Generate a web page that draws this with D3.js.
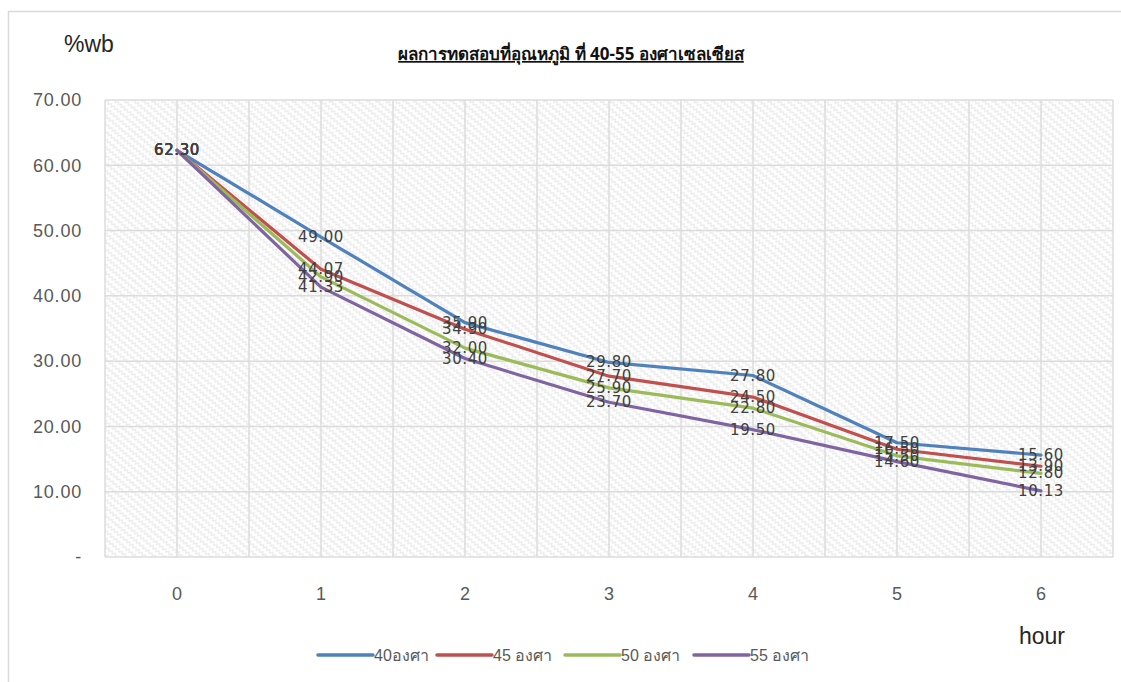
<!DOCTYPE html>
<html>
<head>
<meta charset="utf-8">
<script src="https://cdn.jsdelivr.net/npm/d3@7"></script>
<style>
  html, body { margin: 0; padding: 0; background: #fff; }
  svg { display: block; }
</style>
</head>
<body>
<svg id="chart" width="1121" height="682"></svg>
<script>
// Drying test: moisture content (%wb) over time at four temperatures
const hours = ["0", "1", "2", "3", "4", "5", "6"];
const seriesNames = ["40องศา", "45 องศา", "50 องศา", "55 องศา"];
const temp40 = [62.30, 49.00, 35.90, 29.80, 27.80, 17.50, 15.60];
const temp45 = [62.30, 44.07, 34.90, 27.70, 24.50, 16.50, 13.90];
const temp50 = [62.30, 42.90, 32.00, 25.90, 22.80, 15.50, 12.80];
const temp55 = [62.30, 41.33, 30.40, 23.70, 19.50, 14.60, 10.13];
const yTicks = [0, 10, 20, 30, 40, 50, 60, 70];
const colors = ["#4f81bd", "#c0504d", "#9bbb59", "#8064a2"];

const series = [temp40, temp45, temp50, temp55].map((vals, i) => ({
  name: seriesNames[i], color: colors[i], values: vals
}));

const svg = d3.select("#chart");
const plot = { left: 105, right: 1113, top: 100, bottom: 557 };

const x = d3.scaleBand().domain(hours).range([plot.left, plot.right]);
const y = d3.scaleLinear().domain([0, 70]).range([plot.bottom, plot.top]);
const cx = d => x(d) + x.bandwidth() / 2;

// Outer chart frame
svg.append("rect")
  .attr("x", 8.5).attr("y", 11.5).attr("width", 1125).attr("height", 700)
  .attr("fill", "#fff").attr("stroke", "#d9d9d9").attr("stroke-width", 1.5);

// Zigzag hatch for the plot area
const defs = svg.append("defs");
const pat = defs.append("pattern")
  .attr("id", "zigzag").attr("patternUnits", "userSpaceOnUse")
  .attr("width", 8).attr("height", 6)
  .attr("patternTransform", "rotate(40)");
pat.append("rect").attr("width", 8).attr("height", 6).attr("fill", "#ffffff");
pat.append("path")
  .attr("d", "M0,1.5 L2,4.5 L4,1.5 L6,4.5 L8,1.5")
  .attr("fill", "none").attr("stroke", "#e9e9e9").attr("stroke-width", 1.2);

svg.append("rect")
  .attr("x", plot.left).attr("y", plot.top)
  .attr("width", plot.right - plot.left).attr("height", plot.bottom - plot.top)
  .attr("fill", "url(#zigzag)");

// Gridlines
const grid = svg.append("g").attr("stroke", "#dcdcdc").attr("stroke-width", 1.5);
grid.selectAll("line.h").data(yTicks).join("line")
  .attr("x1", plot.left).attr("x2", plot.right)
  .attr("y1", d => y(d)).attr("y2", d => y(d));
const vlines = hours.map(h => x(h)).concat(hours.map(h => cx(h))).concat([plot.right]);
grid.selectAll("line.v").data(vlines).join("line")
  .attr("x1", d => d).attr("x2", d => d)
  .attr("y1", plot.top).attr("y2", plot.bottom);

// Y axis labels
const yAxis = d3.axisLeft(y).tickValues(yTicks)
  .tickFormat(d => d === 0 ? "-" : d3.format(".2f")(d))
  .tickSize(0).tickPadding(23);
svg.append("g").attr("transform", `translate(${plot.left},0)`).call(yAxis)
  .call(g => g.select(".domain").remove())
  .selectAll("text")
  .attr("font-family", "'Liberation Sans', Arial, sans-serif")
  .attr("font-size", 18).attr("letter-spacing", 0.8).attr("fill", "#595959");

// X axis labels
const xAxis = d3.axisBottom(x).tickSize(0).tickPadding(30);
svg.append("g").attr("transform", `translate(0,${plot.bottom})`).call(xAxis)
  .call(g => g.select(".domain").remove())
  .selectAll("text")
  .attr("font-family", "'Liberation Sans', Arial, sans-serif")
  .attr("font-size", 18).attr("fill", "#595959");

// Lines
const line = d3.line().x((d, i) => cx(hours[i])).y(d => y(d));
svg.append("g").selectAll("path").data(series).join("path")
  .attr("d", s => line(s.values))
  .attr("fill", "none").attr("stroke", s => s.color)
  .attr("stroke-width", 3.2).attr("stroke-linejoin", "round").attr("stroke-linecap", "round");

// Data labels centred on each point
const labels = svg.append("g")
  .attr("font-family", "'DejaVu Sans', sans-serif")
  .attr("font-size", 15).attr("fill", "#404040")
  .attr("text-anchor", "middle").attr("dominant-baseline", "central")
  .attr("letter-spacing", 0.6);
series.forEach(s => {
  labels.selectAll(null).data(s.values).join("text")
    .attr("x", (d, i) => cx(hours[i]))
    .attr("y", d => y(d))
    .text(d => d3.format(".2f")(d));
});

// Title
svg.append("text")
  .attr("x", 571).attr("y", 60).attr("text-anchor", "middle")
  .attr("font-family", "Tahoma, 'Noto Sans', 'DejaVu Sans', sans-serif")
  .attr("font-size", 17).attr("font-weight", "bold").attr("fill", "#111")
  .attr("text-decoration", "underline")
  .text("ผลการทดสอบที่อุณหภูมิ ที่ 40-55 องศาเซลเซียส");

// Axis titles
svg.append("text").attr("x", 64).attr("y", 52)
  .attr("font-family", "'Liberation Sans', Arial, sans-serif")
  .attr("font-size", 23).attr("fill", "#262626").text("%wb");
svg.append("text").attr("x", 1019).attr("y", 644)
  .attr("font-family", "'Liberation Sans', Arial, sans-serif")
  .attr("font-size", 23).attr("fill", "#262626").text("hour");

// Legend
const legendX = [318, 437, 565, 694];
const legend = svg.append("g").selectAll("g").data(series).join("g")
  .attr("transform", (d, i) => `translate(${legendX[i]},655)`);
legend.append("line").attr("x1", 0).attr("x2", 55)
  .attr("stroke", d => d.color).attr("stroke-width", 3.5).attr("stroke-linecap", "round");
legend.append("text").attr("x", 56).attr("y", 0).attr("dominant-baseline", "central")
  .attr("font-family", "'Liberation Sans', Arial, sans-serif")
  .attr("font-size", 16).attr("fill", "#595959")
  .text(d => d.name);
</script>
</body>
</html>
